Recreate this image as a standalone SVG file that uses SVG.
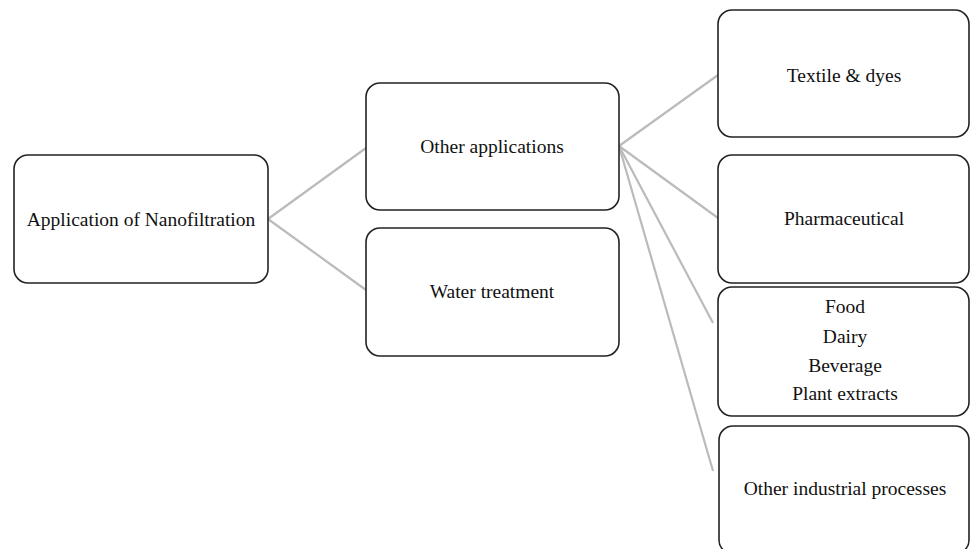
<svg xmlns="http://www.w3.org/2000/svg" width="970" height="549" viewBox="0 0 970 549">
<style>
.box{fill:#fff;stroke:#222;stroke-width:1.6}
.lbl{font-family:"Liberation Serif","Times New Roman",serif;font-size:19.5px;fill:#111;text-anchor:middle}
.con{stroke:#bbb;stroke-width:2.2;fill:none}
</style>
<rect width="970" height="549" fill="#fff"/>
<g id="connectors">
<line class="con" x1="268" y1="219" x2="366" y2="148"/>
<line class="con" x1="268" y1="219" x2="366" y2="290"/>
<line class="con" x1="619" y1="146" x2="718" y2="75"/>
<line class="con" x1="619" y1="146" x2="718" y2="218"/>
<line class="con" x1="619" y1="146" x2="713" y2="323"/>
<line class="con" x1="619" y1="146" x2="713" y2="471"/>
</g>
<g id="root">
<rect class="box" x="14" y="155" width="254" height="128" rx="14"/>
<text class="lbl" x="141" y="226">Application of Nanofiltration</text>
</g>
<g id="other-applications">
<rect class="box" x="366" y="83" width="253" height="127" rx="14"/>
<text class="lbl" x="492" y="153">Other applications</text>
</g>
<g id="water-treatment">
<rect class="box" x="366" y="228" width="253" height="128" rx="14"/>
<text class="lbl" x="492" y="298">Water treatment</text>
</g>
<g id="textile">
<rect class="box" x="718" y="10" width="251" height="127" rx="14"/>
<text class="lbl" x="844" y="82">Textile &amp; dyes</text>
</g>
<g id="pharmaceutical">
<rect class="box" x="718" y="155" width="251" height="128" rx="14"/>
<text class="lbl" x="844" y="225">Pharmaceutical</text>
</g>
<g id="food">
<rect class="box" x="718" y="287" width="251" height="129" rx="14"/>
<text class="lbl" x="845" y="313">Food</text>
<text class="lbl" x="845" y="343">Dairy</text>
<text class="lbl" x="845" y="372">Beverage</text>
<text class="lbl" x="845" y="400">Plant extracts</text>
</g>
<g id="other-industrial">
<rect class="box" x="719" y="426" width="250" height="128" rx="14"/>
<text class="lbl" x="845" y="495">Other industrial processes</text>
</g>
</svg>
